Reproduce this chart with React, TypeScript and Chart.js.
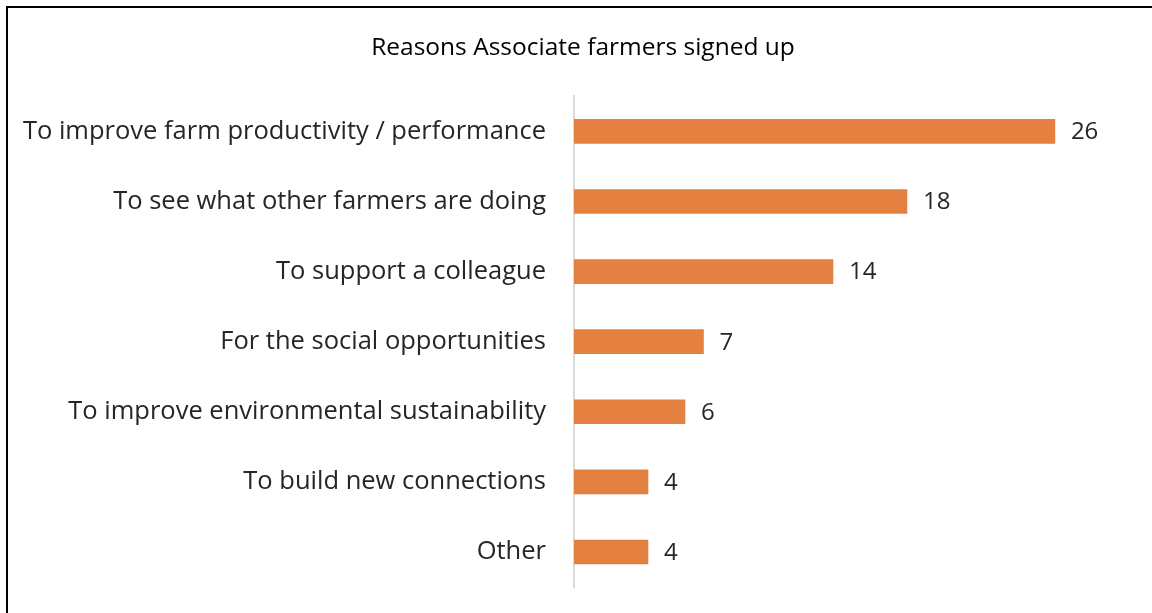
import React, { useEffect, useRef } from "react";
import { Chart, registerables } from "chart.js";

Chart.register(...registerables);

const categories = [
  "To improve farm productivity / performance",
  "To see what other farmers are doing",
  "To support a colleague",
  "For the social opportunities",
  "To improve environmental sustainability",
  "To build new connections",
  "Other",
];
const counts = [26, 18, 14, 7, 6, 4, 4];
const chartTitle = "Reasons Associate farmers signed up";

const FONT = "'Open Sans', Lato, sans-serif";

const valueLabels = {
  id: "valueLabels",
  afterDatasetsDraw(chart: any) {
    const ctx = chart.ctx;
    const meta = chart.getDatasetMeta(0);
    ctx.save();
    ctx.font = `24px ${FONT}`;
    ctx.fillStyle = "#262626";
    ctx.textAlign = "left";
    ctx.textBaseline = "middle";
    meta.data.forEach((bar: any, i: number) => {
      ctx.fillText(String(chart.data.datasets[0].data[i]), bar.x + 16, bar.y + 1);
    });
    ctx.restore();
  },
};

export default function App() {
  const ref = useRef<HTMLCanvasElement>(null);
  useEffect(() => {
    document.body.style.margin = "0";
    const chart = new Chart(ref.current as HTMLCanvasElement, {
      type: "bar",
      data: {
        labels: categories,
        datasets: [
          {
            data: counts,
            backgroundColor: "#E48141",
            barThickness: 24,
          },
        ],
      },
      plugins: [valueLabels],
      options: {
        indexAxis: "y",
        animation: false,
        responsive: false,
        layout: { padding: { left: 14, right: 0, top: 0, bottom: 26 } },
        plugins: {
          legend: { display: false },
          tooltip: { enabled: false },
          title: {
            display: true,
            text: chartTitle,
            color: "#000000",
            font: { family: FONT, size: 24.5, weight: "normal" },
            padding: { top: 33, bottom: 34 },
          },
        },
        scales: {
          x: { display: false, min: 0, max: 31.25 },
          y: {
            afterFit: (scale: any) => {
              scale.width = 560;
              scale.paddingTop = 0;
              scale.paddingBottom = 0;
            },
            grid: { display: false, drawTicks: false },
            border: { display: true, color: "#D9D9D9", width: 2 },
            ticks: {
              color: "#262626",
              padding: 28,
              font: { family: FONT, size: 25.5 },
            },
          },
        },
      },
    });
    return () => chart.destroy();
  }, []);
  return (
    <div style={{ position: "relative", width: 1152, height: 613, overflow: "hidden", background: "#fff" }}>
      <div
        style={{
          position: "absolute",
          left: 6,
          top: 6,
          width: 1200,
          height: 700,
          borderTop: "2px solid #000",
          borderLeft: "2px solid #000",
          boxSizing: "border-box",
        }}
      />
      <canvas ref={ref} width={1152} height={613} style={{ position: "absolute", left: 0, top: 0 }} />
    </div>
  );
}
